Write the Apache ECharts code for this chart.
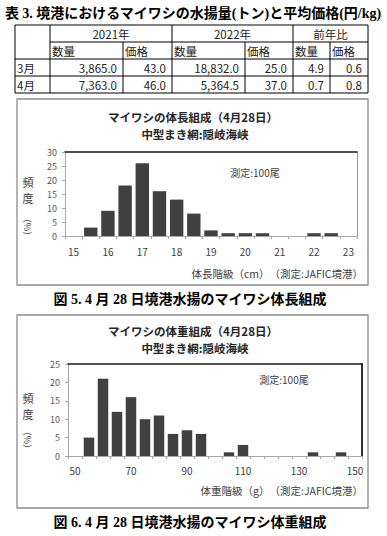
<!DOCTYPE html>
<html><head><meta charset="utf-8">
<script src="https://cdn.jsdelivr.net/npm/echarts@6/dist/echarts.min.js"></script>
<style>html,body{margin:0;padding:0;background:#fff;}#c{width:387px;height:536px;}</style>
</head><body><div id="c"></div>
<script>
// ---- Table data ----
const tableTitle = '表 3. 境港におけるマイワシの水揚量(トン)と平均価格(円/kg)';
const yearHeads = ['2021年', '2022年', '前年比'];
const subHeads = ['数量', '価格'];
const months = ['3月', '4月'];
const qty2021 = [3865.0, 7363.0];
const price2021 = [43.0, 46.0];
const qty2022 = [18832.0, 5364.5];
const price2022 = [25.0, 37.0];
const ratioQty = [4.9, 0.7];
const ratioPrice = [0.6, 0.8];

// ---- Fig 5: length composition ----
const lenTitle1 = 'マイワシの体長組成（4月28日）';
const lenTitle2 = '中型まき網:隠岐海峡';
const lenCats = [15, 15.5, 16, 16.5, 17, 17.5, 18, 18.5, 19, 19.5, 20, 20.5, 21, 21.5, 22, 22.5, 23];
const lenFreq = [0, 3, 9, 18, 26, 16, 13, 8, 2, 1, 1, 1, 0, 0, 1, 1, 0];
const lenYTicks = [0, 5, 10, 15, 20, 25, 30];
const lenXName = '体長階級（cm）　（測定:JAFIC境港）';
const lenCaption = '図 5. 4 月 28 日境港水揚のマイワシ体長組成';

// ---- Fig 6: weight composition ----
const wtTitle1 = 'マイワシの体重組成（4月28日）';
const wtTitle2 = '中型まき網:隠岐海峡';
const wtCats = [50, 55, 60, 65, 70, 75, 80, 85, 90, 95, 100, 105, 110, 115, 120, 125, 130, 135, 140, 145, 150];
const wtFreq = [0, 5, 21, 12, 16, 10, 11, 6, 7, 6, 0, 1, 3, 0, 0, 0, 0, 1, 0, 1, 0];
const wtYTicks = [0, 5, 10, 15, 20, 25];
const wtXName = '体重階級（g）　（測定:JAFIC境港）';
const wtCaption = '図 6. 4 月 28 日境港水揚のマイワシ体重組成';

const note = '測定:100尾';
const yName1 = ['頻', '度'];
const yName2 = '（%）';

const FONT = '"Noto Sans CJK JP", "Noto Sans", sans-serif';
const SERIF = '"Liberation Serif", "Noto Sans CJK JP", serif';
const fmt = v => v.toLocaleString('en-US', {minimumFractionDigits: 1, maximumFractionDigits: 1});

function T(text, x, y, o) {
  o = o || {};
  const size = o.size || 12;
  return {
    type: 'text', x: x, y: y, rotation: o.rot || 0, z: 10,
    style: {
      text: text, fill: o.color || '#262626',
      font: (o.weight || 'normal') + ' ' + size + 'px ' + (o.family || FONT),
      lineHeight: size,
      align: o.align || 'center', textAlign: o.align || 'center',
      verticalAlign: 'middle', textVerticalAlign: 'middle'
    }
  };
}
function L(x1, y1, x2, y2, c, w) {
  return {type: 'line', z: 5, shape: {x1: x1, y1: y1, x2: x2, y2: y2}, style: {stroke: c || '#000', lineWidth: w || 1}};
}

const g = [];
// table title
g.push(T(tableTitle, 193, 13, {size: 14, weight: 'bold', color: '#000', family: SERIF}));
// table grid
const colX = [15, 50, 123, 172, 245, 293, 330, 368];
const rowY = [25, 42, 59, 76, 93];
g.push({type: 'rect', z: 5, shape: {x: colX[0], y: rowY[0], width: colX[7] - colX[0], height: rowY[4] - rowY[0]}, style: {fill: 'none', stroke: '#000', lineWidth: 1}});
g.push(L(colX[1], rowY[1], colX[7], rowY[1]));
g.push(L(colX[0], rowY[2], colX[7], rowY[2]));
g.push(L(colX[0], rowY[3], colX[7], rowY[3]));
[1, 3, 5].forEach(i => g.push(L(colX[i], rowY[0], colX[i], rowY[4])));
[2, 4, 6].forEach(i => g.push(L(colX[i], rowY[1], colX[i], rowY[4])));
const tf = {size: 11.5, color: '#222'};
yearHeads.forEach((h, i) => {
  const a = colX[1 + i * 2], b = colX[3 + i * 2];
  g.push(T(h, (a + b) / 2, (rowY[0] + rowY[1]) / 2 + 0.5, tf));
});
for (let i = 0; i < 6; i++) {
  g.push(T(subHeads[i % 2], colX[1 + i] + 2, (rowY[1] + rowY[2]) / 2 + 0.5, Object.assign({align: 'left'}, tf)));
}
const cols = [qty2021, price2021, qty2022, price2022, ratioQty, ratioPrice];
months.forEach((m, r) => {
  const cy = (rowY[2 + r] + rowY[3 + r]) / 2 + 0.5;
  g.push(T(m, colX[0] + 2, cy, Object.assign({align: 'left'}, tf)));
  cols.forEach((arr, c) => {
    g.push(T(fmt(arr[r]), colX[c + 2] - 6, cy, Object.assign({align: 'right'}, tf)));
  });
});

// chart frames
g.push({type: 'rect', z: 1, shape: {x: 17, y: 99, width: 351, height: 186}, style: {fill: 'none', stroke: '#8c8c8c', lineWidth: 1.3}});
g.push({type: 'rect', z: 1, shape: {x: 17, y: 315, width: 351, height: 193}, style: {fill: 'none', stroke: '#8c8c8c', lineWidth: 1.3}});
// chart 1 texts
g.push(T(lenTitle1, 193, 117, {size: 11.5, weight: 'bold'}));
g.push(T(lenTitle2, 195, 134, {size: 11.5, weight: 'bold'}));
g.push(T(note, 255, 172, {size: 10, color: '#404040'}));
g.push(T(yName1[0], 28, 182, {size: 11, color: '#404040'}));
g.push(T(yName1[1], 28, 198, {size: 11, color: '#404040'}));
g.push(T(yName2, 27, 227, {size: 9, color: '#404040', rot: -Math.PI / 2}));
g.push(T(lenXName, 363, 273, {size: 10.5, color: '#404040', align: 'right'}));
g.push(T(lenCaption, 190, 299, {size: 14, weight: 'bold', color: '#000', family: SERIF}));
// chart 2 texts
g.push(T(wtTitle1, 193, 331, {size: 11.5, weight: 'bold'}));
g.push(T(wtTitle2, 195, 348, {size: 11.5, weight: 'bold'}));
g.push(T(note, 284, 379, {size: 10, color: '#404040'}));
g.push(T(yName1[0], 28, 398, {size: 11, color: '#404040'}));
g.push(T(yName1[1], 28, 414, {size: 11, color: '#404040'}));
g.push(T(yName2, 27, 440, {size: 9, color: '#404040', rot: -Math.PI / 2}));
g.push(T(wtXName, 363, 490, {size: 10.5, color: '#404040', align: 'right'}));
g.push(T(wtCaption, 190, 522, {size: 14, weight: 'bold', color: '#000', family: SERIF}));

const axisGray = '#a6a6a6';
function catAxis(gi, data, interval, margin) {
  return {
    type: 'category', gridIndex: gi, data: data, position: 'bottom',
    axisLine: {lineStyle: {color: axisGray, width: 1}},
    axisTick: {show: true, interval: 0, length: 3, lineStyle: {color: axisGray}},
    axisLabel: {interval: interval, fontSize: 10, color: '#404040', margin: margin, fontFamily: FONT},
    splitLine: {show: false}
  };
}
function topAxis(gi, data, color, w) {
  return {
    type: 'category', gridIndex: gi, data: data, position: 'top',
    axisLine: {show: true, onZero: false, lineStyle: {color: color, width: w}},
    axisTick: {show: false}, axisLabel: {show: false}, splitLine: {show: false}
  };
}
function valAxis(gi, ticks) {
  return {
    type: 'value', gridIndex: gi, min: ticks[0], max: ticks[ticks.length - 1], interval: ticks[1] - ticks[0],
    axisLine: {show: true, lineStyle: {color: axisGray}},
    axisTick: {show: true, length: 3, lineStyle: {color: axisGray}},
    axisLabel: {fontSize: 9, color: '#595959', margin: 8, fontFamily: FONT},
    splitLine: {show: false}
  };
}
function rightAxis(gi, ticks, color, w) {
  return {
    type: 'value', gridIndex: gi, position: 'right', min: ticks[0], max: ticks[ticks.length - 1], interval: ticks[1] - ticks[0],
    axisLine: {show: true, onZero: false, lineStyle: {color: color, width: w}},
    axisTick: {show: false}, axisLabel: {show: false}, splitLine: {show: false}
  };
}

const option = {
  animation: false,
  backgroundColor: '#fff',
  textStyle: {fontFamily: FONT},
  grid: [
    {left: 65, width: 292, top: 152, height: 84, outerBoundsMode: 'none', containLabel: false},
    {left: 68, width: 294, top: 364, height: 92, outerBoundsMode: 'none', containLabel: false}
  ],
  xAxis: [
    catAxis(0, lenCats, 1, 10),
    topAxis(0, lenCats, '#1a1a1a', 1.5),
    catAxis(1, wtCats, 3, 9),
    topAxis(1, wtCats, '#1a1a1a', 1.5)
  ],
  yAxis: [
    valAxis(0, lenYTicks),
    rightAxis(0, lenYTicks, '#9a9a9a', 1),
    valAxis(1, wtYTicks),
    rightAxis(1, wtYTicks, '#1a1a1a', 1.8)
  ],
  series: [
    {type: 'bar', xAxisIndex: 0, yAxisIndex: 0, data: lenFreq, barCategoryGap: '22%',
     itemStyle: {color: '#404040'}, silent: true},
    {type: 'bar', xAxisIndex: 2, yAxisIndex: 2, data: wtFreq, barCategoryGap: '25%',
     itemStyle: {color: '#404040'}, silent: true}
  ],
  graphic: g
};
const chart = echarts.init(document.getElementById('c'), null, {renderer: 'svg'});
chart.setOption(option);
</script>
</body></html>
